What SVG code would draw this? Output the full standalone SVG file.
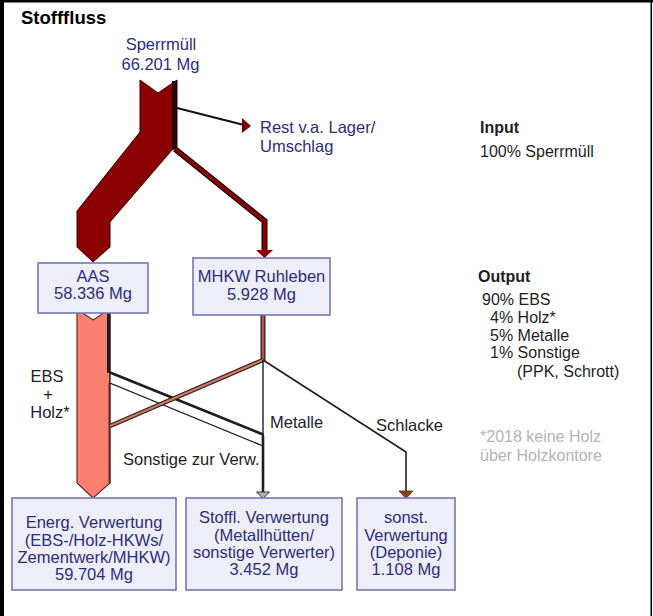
<svg xmlns="http://www.w3.org/2000/svg" width="653" height="616" viewBox="0 0 653 616">
<style>
.box{fill:#eeeef8;stroke:#7676b4;stroke-width:1.6}
.shadow{fill:#c8c8d4}
.nv{font-family:"Liberation Sans",Arial,sans-serif;font-size:16.5px;fill:#2d2d7d;text-anchor:middle}
.bk{font-family:"Liberation Sans",Arial,sans-serif;font-size:16.5px;fill:#1e1e1e}
.rt{font-family:"Liberation Sans",Arial,sans-serif;font-size:16px;fill:#1e1e1e}
.gr{font-family:"Liberation Sans",Arial,sans-serif;font-size:16px;fill:#b4b4b4}
.hd{font-family:"Liberation Sans",Arial,sans-serif;font-size:16px;font-weight:bold;fill:#1e1e1e}
</style>
<rect x="0" y="0" width="653" height="616" fill="#ffffff"/>
<g id="frame">
<rect x="0" y="0" width="4" height="616" fill="#000"/>
<rect x="0" y="0" width="653" height="2.5" fill="#000"/>
<rect x="650.5" y="0" width="1.5" height="616" fill="#000"/>
</g>
<text x="21" y="24" font-family="'Liberation Sans',Arial,sans-serif" font-size="18.5" font-weight="bold" fill="#000">Stofffluss</text>

<g id="connectors">
<!-- Sperrmuell main band -->
<polygon points="140,80 158,93 177,80 177,148 172,150 110,222 110,247 93,262 77,247 77,211 140,132" fill="#8b0000" stroke="#3a0000" stroke-width="1"/>
<rect x="172" y="81" width="5" height="68" fill="#2a0000"/>
<!-- Rest arrow -->
<line x1="177" y1="108" x2="244" y2="125" stroke="#111" stroke-width="2"/>
<polygon points="242,118 251,126 242,133" fill="#7a0000"/>
<!-- branch to MHKW -->
<polyline points="175,149 264.5,221 264.5,251" fill="none" stroke="#1a0000" stroke-width="6"/>
<polyline points="175,149 264.5,221 264.5,251" fill="none" stroke="#8b0000" stroke-width="3.5"/>
<polygon points="256,250 273,250 264.5,258" fill="#7a0000"/>

<!-- AAS salmon band -->
<polygon points="77,309 93,320 110,309 110,483 93,498 77,483" fill="#f98070" stroke="#6b2b20" stroke-width="1.2"/>
<rect x="107" y="310" width="3.5" height="63" fill="#1e1e1e"/>
<line x1="109.5" y1="383" x2="109.5" y2="483" stroke="#5a2a20" stroke-width="2"/>

<!-- AAS to Stoffl band -->
<polygon points="110,372 263,434 263,446 110,383" fill="#fff" stroke="#1e1e1e" stroke-width="1.3"/>
<line x1="110" y1="372.5" x2="263" y2="434.5" stroke="#1e1e1e" stroke-width="2.6"/>

<!-- MHKW outflow -->
<line x1="263" y1="315" x2="263" y2="361" stroke="#2a1010" stroke-width="5"/>
<line x1="263" y1="315" x2="263" y2="360" stroke="#a05a55" stroke-width="2.8"/>
<!-- MHKW to Energ -->
<line x1="263" y1="360" x2="110" y2="426" stroke="#3a1a15" stroke-width="4.5"/>
<line x1="263" y1="360" x2="110" y2="426" stroke="#c47a68" stroke-width="2.2"/>
<!-- Metalle -->
<line x1="263" y1="360" x2="263" y2="436" stroke="#1e1e1e" stroke-width="1.4"/>
<line x1="263" y1="436" x2="263" y2="493" stroke="#1e1e1e" stroke-width="2.6"/>
<polygon points="256.5,492 269.5,492 263,498.5" fill="#b0b0b0" stroke="#333" stroke-width="1"/>
<!-- Schlacke -->
<polyline points="263,360 406,452 406,492" fill="none" stroke="#1e1e1e" stroke-width="1.6"/>
<polygon points="399,491 413,491 406,498.5" fill="#8b4513" stroke="#4a2a10" stroke-width="0.8"/>
</g>

<g id="labels">
<text class="nv" x="161" y="50">Sperrmüll</text>
<text class="nv" x="160.5" y="70">66.201 Mg</text>
<text class="nv" x="260" y="133" text-anchor="start" style="text-anchor:start">Rest v.a. Lager/</text>
<text class="nv" x="260" y="152" style="text-anchor:start">Umschlag</text>
<text class="bk" x="47" y="382" text-anchor="middle">EBS</text>
<text class="bk" x="48" y="400" text-anchor="middle">+</text>
<text class="bk" x="50" y="418" text-anchor="middle">Holz*</text>
<text class="bk" x="270" y="428">Metalle</text>
<text class="bk" x="376" y="431">Schlacke</text>
<text class="bk" x="123" y="465">Sonstige zur Verw.</text>
</g>

<g id="legend">
<text class="hd" x="480" y="133">Input</text>
<text class="rt" x="480" y="157">100% Sperrmüll</text>
<text class="hd" x="478" y="282">Output</text>
<text class="rt" x="482" y="305">90% EBS</text>
<text class="rt" x="490" y="323">4% Holz*</text>
<text class="rt" x="490" y="341">5% Metalle</text>
<text class="rt" x="490" y="358">1% Sonstige</text>
<text class="rt" x="517" y="377">(PPK, Schrott)</text>
<text class="gr" x="480" y="442">*2018 keine Holz</text>
<text class="gr" x="480" y="461">über Holzkontore</text>
</g>

<g id="node-aas">
<rect class="box" x="38" y="263" width="110" height="50"/>
<text class="nv" x="93" y="282">AAS</text>
<text class="nv" x="93" y="299">58.336 Mg</text>
</g>
<g id="node-mhkw">
<rect class="box" x="193" y="258" width="137" height="57"/>
<text class="nv" x="261.5" y="282">MHKW Ruhleben</text>
<text class="nv" x="261.5" y="300">5.928 Mg</text>
</g>
<g id="node-energ">
<rect class="box" x="12" y="498" width="164" height="92"/>
<text class="nv" x="94" y="528">Energ. Verwertung</text>
<text class="nv" x="94" y="546">(EBS-/Holz-HKWs/</text>
<text class="nv" x="94" y="563">Zementwerk/MHKW)</text>
<text class="nv" x="94" y="580">59.704 Mg</text>
</g>
<g id="node-stoffl">
<rect class="box" x="186" y="498" width="156" height="92"/>
<text class="nv" x="264" y="523">Stoffl. Verwertung</text>
<text class="nv" x="264" y="541">(Metallhütten/</text>
<text class="nv" x="264" y="558">sonstige Verwerter)</text>
<text class="nv" x="264" y="575">3.452 Mg</text>
</g>
<g id="node-sonst">
<rect class="box" x="357" y="498" width="98" height="92"/>
<text class="nv" x="406" y="523">sonst.</text>
<text class="nv" x="406" y="541">Verwertung</text>
<text class="nv" x="406" y="558">(Deponie)</text>
<text class="nv" x="406" y="575">1.108 Mg</text>
</g>
</svg>
